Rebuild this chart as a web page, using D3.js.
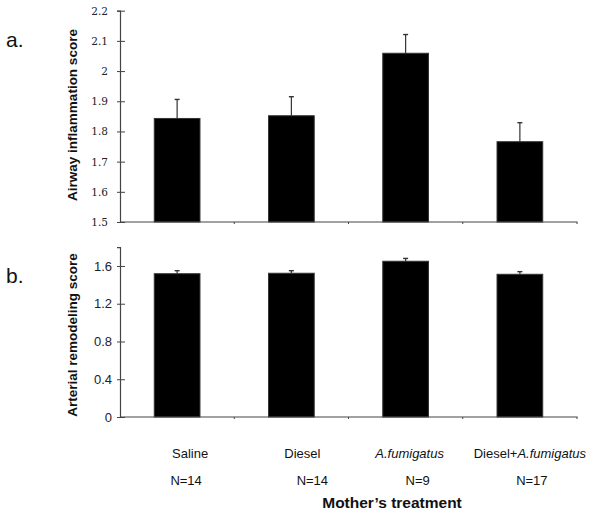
<!DOCTYPE html>
<html>
<head>
<meta charset="utf-8">
<script src="https://cdn.jsdelivr.net/npm/d3@7"></script>
<style>
  html, body { margin: 0; padding: 0; background: #fff; }
  svg { display: block; }
</style>
</head>
<body>
<svg id="chart" width="600" height="517"></svg>
<script>
// ---- data ----
const categories = ["Saline", "Diesel", "A.fumigatus", "Diesel+A.fumigatus"];
const sampleSizes = ["N=14", "N=14", "N=9", "N=17"];
const airwayMeans = [1.843, 1.852, 2.059, 1.766];
const airwayErrors = [0.063, 0.063, 0.062, 0.063];
const arterialMeans = [1.518, 1.523, 1.650, 1.512];
const arterialErrors = [0.032, 0.027, 0.030, 0.028];
const airwayTicks = [1.5, 1.6, 1.7, 1.8, 1.9, 2.0, 2.1, 2.2];
const arterialTicks = [0, 0.4, 0.8, 1.2, 1.6];

// ---- layout ----
const svg = d3.select("#chart");
const axisColor = "#444";
const sans = "Liberation Sans, Arial, sans-serif";
const x = d3.scaleBand().domain(categories).range([120, 577])
  .paddingInner(0.6).paddingOuter(0.3);
const xb = d3.scaleBand().domain(categories).range([120, 577]).padding(0);

const yA = d3.scaleLinear().domain([1.5, 2.2]).range([222, 10.7]);
const yB = d3.scaleLinear().domain([0, 1.8]).range([417, 247.1]);

function panel(y, means, errs, ticks, fmt, tickFont, tickSize, labelDx) {
  const g = svg.append("g");
  g.selectAll("rect.bar").data(categories).join("rect")
    .attr("class", "bar")
    .attr("x", d => x(d))
    .attr("width", x.bandwidth())
    .attr("y", (d, i) => y(means[i]))
    .attr("height", (d, i) => y.range()[0] - y(means[i]))
    .attr("fill", "#000")
    .attr("stroke", "#333")
    .attr("stroke-width", 1);
  const eb = g.selectAll("g.err").data(categories).join("g").attr("class", "err");
  eb.append("line")
    .attr("x1", d => x(d) + x.bandwidth() / 2)
    .attr("x2", d => x(d) + x.bandwidth() / 2)
    .attr("y1", (d, i) => y(means[i]))
    .attr("y2", (d, i) => y(means[i] + errs[i]))
    .attr("stroke", "#333").attr("stroke-width", 1.2);
  eb.append("line")
    .attr("x1", d => x(d) + x.bandwidth() / 2 - 2.5)
    .attr("x2", d => x(d) + x.bandwidth() / 2 + 2.5)
    .attr("y1", (d, i) => y(means[i] + errs[i]))
    .attr("y2", (d, i) => y(means[i] + errs[i]))
    .attr("stroke", "#333").attr("stroke-width", 1.4);
  const base = y.range()[0];
  g.append("line").attr("x1", 120).attr("x2", 577.5)
    .attr("y1", base).attr("y2", base)
    .attr("stroke", axisColor).attr("stroke-width", 1.2);
  g.selectAll("line.sep").data(categories.slice(1).concat(["end"])).join("line")
    .attr("class", "sep")
    .attr("x1", (d, i) => i < 3 ? xb(d) : xb.range()[1])
    .attr("x2", (d, i) => i < 3 ? xb(d) : xb.range()[1])
    .attr("y1", base).attr("y2", base + 2)
    .attr("stroke", axisColor).attr("stroke-width", 1);
  const ax = g.append("g").attr("transform", "translate(120,0)")
    .call(d3.axisLeft(y).tickValues(ticks).tickFormat(fmt).tickSize(3).tickPadding(labelDx));
  ax.select(".domain").attr("stroke", axisColor).attr("stroke-width", 1.2);
  ax.selectAll(".tick line").attr("x1", 5).attr("x2", -3)
    .attr("stroke", axisColor).attr("stroke-width", 1);
  ax.selectAll(".tick text")
    .attr("font-family", tickFont).attr("font-size", tickSize).attr("fill", "#222");
  return g;
}

panel(yA, airwayMeans, airwayErrors, airwayTicks, d => d3.format("")(+d.toFixed(1)),
  "DejaVu Serif", 10.5, 9);
panel(yB, arterialMeans, arterialErrors, arterialTicks, d => d3.format("")(+d.toFixed(1)),
  sans, 13, 5);

// panel letters
svg.append("text").attr("x", 6).attr("y", 47).text("a.")
  .attr("font-family", sans).attr("font-size", 21).attr("fill", "#111");
svg.append("text").attr("x", 6).attr("y", 283).text("b.")
  .attr("font-family", sans).attr("font-size", 21).attr("fill", "#111");

// y titles
svg.append("text")
  .attr("transform", "translate(77,115) rotate(-90)")
  .attr("text-anchor", "middle")
  .attr("font-family", sans)
  .attr("font-weight", "bold").attr("font-size", 13.5).attr("fill", "#111")
  .text("Airway inflammation score");
svg.append("text")
  .attr("transform", "translate(77,335) rotate(-90)")
  .attr("text-anchor", "middle")
  .attr("font-family", sans)
  .attr("font-weight", "bold").attr("font-size", 13.5).attr("fill", "#111")
  .text("Arterial remodeling score");

// category labels
const catDx = [13, 11, 4, 10];
const nDx = [9, 21, 12, 12];
const cat = svg.append("g")
  .attr("font-family", sans)
  .attr("font-size", 13).attr("fill", "#111");
categories.forEach((c, i) => {
  const cx = x(c) + x.bandwidth() / 2 + catDx[i];
  const t = cat.append("text").attr("x", cx).attr("y", 457.5).attr("text-anchor", "middle");
  const parts = c.split("+");
  if (c === "A.fumigatus") {
    t.append("tspan").attr("font-style", "italic").text(c);
  } else if (parts.length === 2) {
    t.append("tspan").text(parts[0] + "+");
    t.append("tspan").attr("font-style", "italic").text(parts[1]);
  } else {
    t.text(c);
  }
  cat.append("text").attr("x", x(c) + x.bandwidth() / 2 + nDx[i]).attr("y", 485)
    .attr("text-anchor", "middle").text(sampleSizes[i]);
});

svg.append("text").attr("x", 392).attr("y", 508).attr("text-anchor", "middle")
  .attr("font-family", sans)
  .attr("font-weight", "bold").attr("font-size", 15.5).attr("fill", "#111")
  .text("Mother\u2019s treatment");
</script>
</body>
</html>
